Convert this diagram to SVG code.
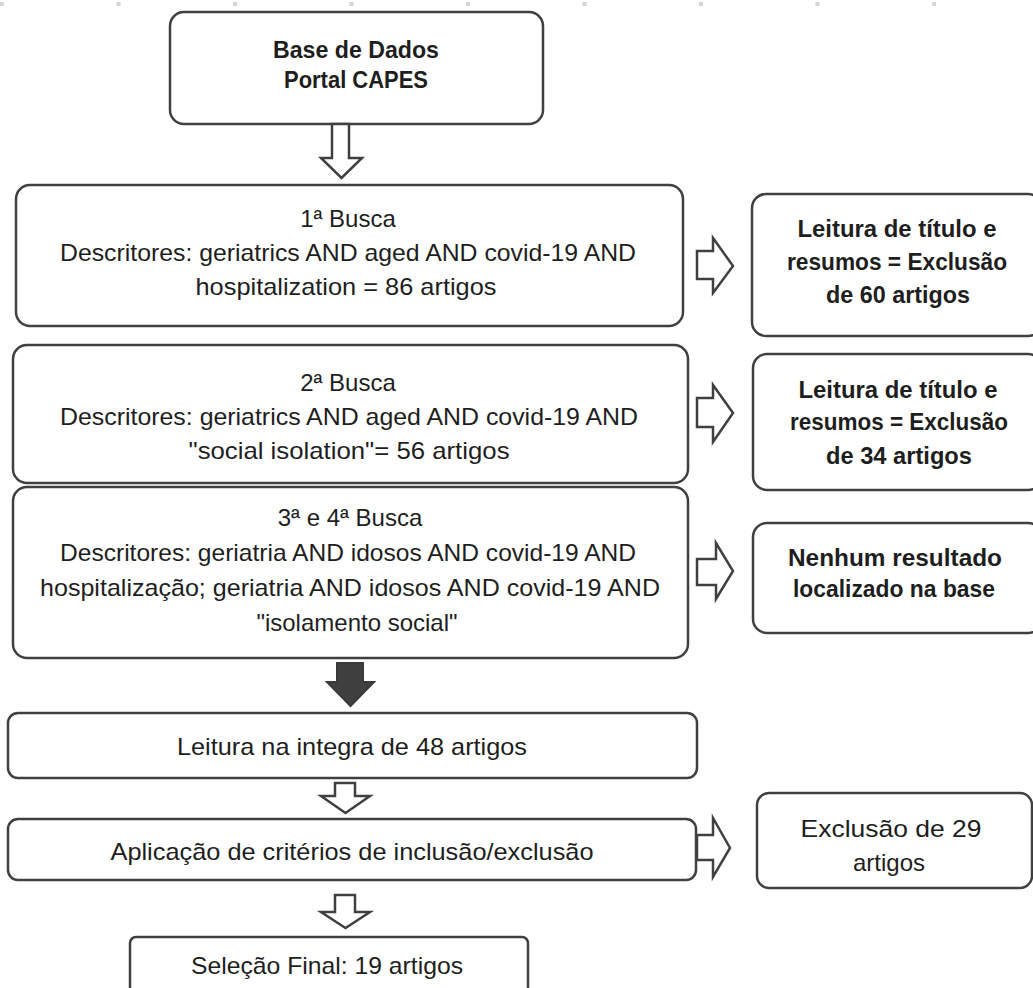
<svg xmlns="http://www.w3.org/2000/svg" width="1033" height="988" viewBox="0 0 1033 988">
<style>
.box{fill:#fff;stroke:#404040;stroke-width:2.5}
.arr{fill:#fff;stroke:#404040;stroke-width:2.5;stroke-linejoin:miter}
.t{font-family:"Liberation Sans",Arial,sans-serif;font-size:24px;fill:#1e1e1e;text-anchor:middle;dominant-baseline:central}
.b{font-weight:bold}
</style>
<rect width="1033" height="988" fill="#fff"/>
<line x1="0" y1="4" x2="1033" y2="4" stroke="#d6d6d6" stroke-width="4" stroke-dasharray="4 112.5"/>

<g id="n-base">
<rect class="box" x="170" y="12" width="373" height="112" rx="14"/>
<text class="t b" x="356" y="49" font-size="22" textLength="166" lengthAdjust="spacingAndGlyphs">Base de Dados</text>
<text class="t b" x="356" y="79" font-size="22" textLength="144" lengthAdjust="spacingAndGlyphs">Portal CAPES</text>
</g>

<g id="n-busca1">
<rect class="box" x="16" y="185" width="667" height="141" rx="14"/>
<text class="t" x="348" y="218">1ª Busca</text>
<text class="t" x="348" y="252" textLength="576" lengthAdjust="spacingAndGlyphs">Descritores: geriatrics AND aged AND covid-19 AND</text>
<text class="t" x="346" y="286" textLength="301" lengthAdjust="spacingAndGlyphs">hospitalization = 86 artigos</text>
</g>

<g id="n-excl1">
<rect class="box" x="752" y="194" width="290" height="142" rx="14"/>
<text class="t b" x="897" y="228" textLength="199" lengthAdjust="spacingAndGlyphs">Leitura de título e</text>
<text class="t b" x="897" y="261" textLength="220" lengthAdjust="spacingAndGlyphs">resumos = Exclusão</text>
<text class="t b" x="898" y="294" textLength="144" lengthAdjust="spacingAndGlyphs">de 60 artigos</text>
</g>

<g id="n-busca2">
<rect class="box" x="13" y="345" width="675" height="138" rx="14"/>
<text class="t" x="348" y="382">2ª Busca</text>
<text class="t" x="349" y="416" textLength="578" lengthAdjust="spacingAndGlyphs">Descritores: geriatrics AND aged AND covid-19 AND</text>
<text class="t" x="349" y="450" textLength="321" lengthAdjust="spacingAndGlyphs">"social isolation"= 56 artigos</text>
</g>

<g id="n-excl2">
<rect class="box" x="753" y="354" width="289" height="136" rx="14"/>
<text class="t b" x="898" y="389" textLength="199" lengthAdjust="spacingAndGlyphs">Leitura de título e</text>
<text class="t b" x="899" y="421" textLength="218" lengthAdjust="spacingAndGlyphs">resumos = Exclusão</text>
<text class="t b" x="899" y="455" textLength="146" lengthAdjust="spacingAndGlyphs">de 34 artigos</text>
</g>

<g id="n-busca34">
<rect class="box" x="13" y="487" width="675" height="171" rx="14"/>
<text class="t" x="350" y="517">3ª e 4ª Busca</text>
<text class="t" x="348" y="552" textLength="576" lengthAdjust="spacingAndGlyphs">Descritores: geriatria AND idosos AND covid-19 AND</text>
<text class="t" x="350" y="587" textLength="620" lengthAdjust="spacingAndGlyphs">hospitalização; geriatria AND idosos AND covid-19 AND</text>
<text class="t" x="357" y="622">"isolamento social"</text>
</g>

<g id="n-nenhum">
<rect class="box" x="753" y="523" width="289" height="110" rx="14"/>
<text class="t b" x="895" y="557" textLength="214" lengthAdjust="spacingAndGlyphs">Nenhum resultado</text>
<text class="t b" x="894" y="588" textLength="202" lengthAdjust="spacingAndGlyphs">localizado na base</text>
</g>

<g id="n-leitura">
<rect class="box" x="8" y="713" width="689" height="65" rx="10"/>
<text class="t" x="352" y="746" textLength="350" lengthAdjust="spacingAndGlyphs">Leitura na integra de 48 artigos</text>
</g>

<g id="n-criterios">
<rect class="box" x="8" y="819" width="688" height="61" rx="10"/>
<text class="t" x="352" y="851" textLength="483" lengthAdjust="spacingAndGlyphs">Aplicação de critérios de inclusão/exclusão</text>
</g>

<g id="n-excl29">
<rect class="box" x="757" y="793" width="275" height="95" rx="12"/>
<text class="t" x="891" y="828" textLength="181" lengthAdjust="spacingAndGlyphs">Exclusão de 29</text>
<text class="t" x="889" y="862">artigos</text>
</g>

<g id="n-final">
<rect class="box" x="130" y="937" width="398" height="70" rx="6"/>
<text class="t" x="327" y="965" textLength="272" lengthAdjust="spacingAndGlyphs">Seleção Final: 19 artigos</text>
</g>

<g id="connectors">
<polygon class="arr" points="332,124 349,124 349,158 362,158 341.5,178 321,158 332,158"/>
<polygon class="arr" points="697,251 713,251 713,238 733,266 713,293 713,279 697,279"/>
<polygon class="arr" points="697,398 713,398 713,385 733,413 713,442 713,427 697,427"/>
<polygon class="arr" points="697,559 716,559 716,543 733,571 716,599 716,585 697,585"/>
<polygon points="337,663 363,663 363,682 374,682 350.5,706 327,682 337,682" fill="#404040" stroke="#3a3a3a" stroke-width="2"/>
<polygon class="arr" points="335,783 355,783 355,796 370,796 345.5,813 321,796 335,796"/>
<polygon class="arr" points="697,835 713,835 713,818 730,848 713,877 713,860 697,860"/>
<polygon class="arr" points="335,895 355,895 355,912 370,912 345.5,928 321,912 335,912"/>
</g>
</svg>
